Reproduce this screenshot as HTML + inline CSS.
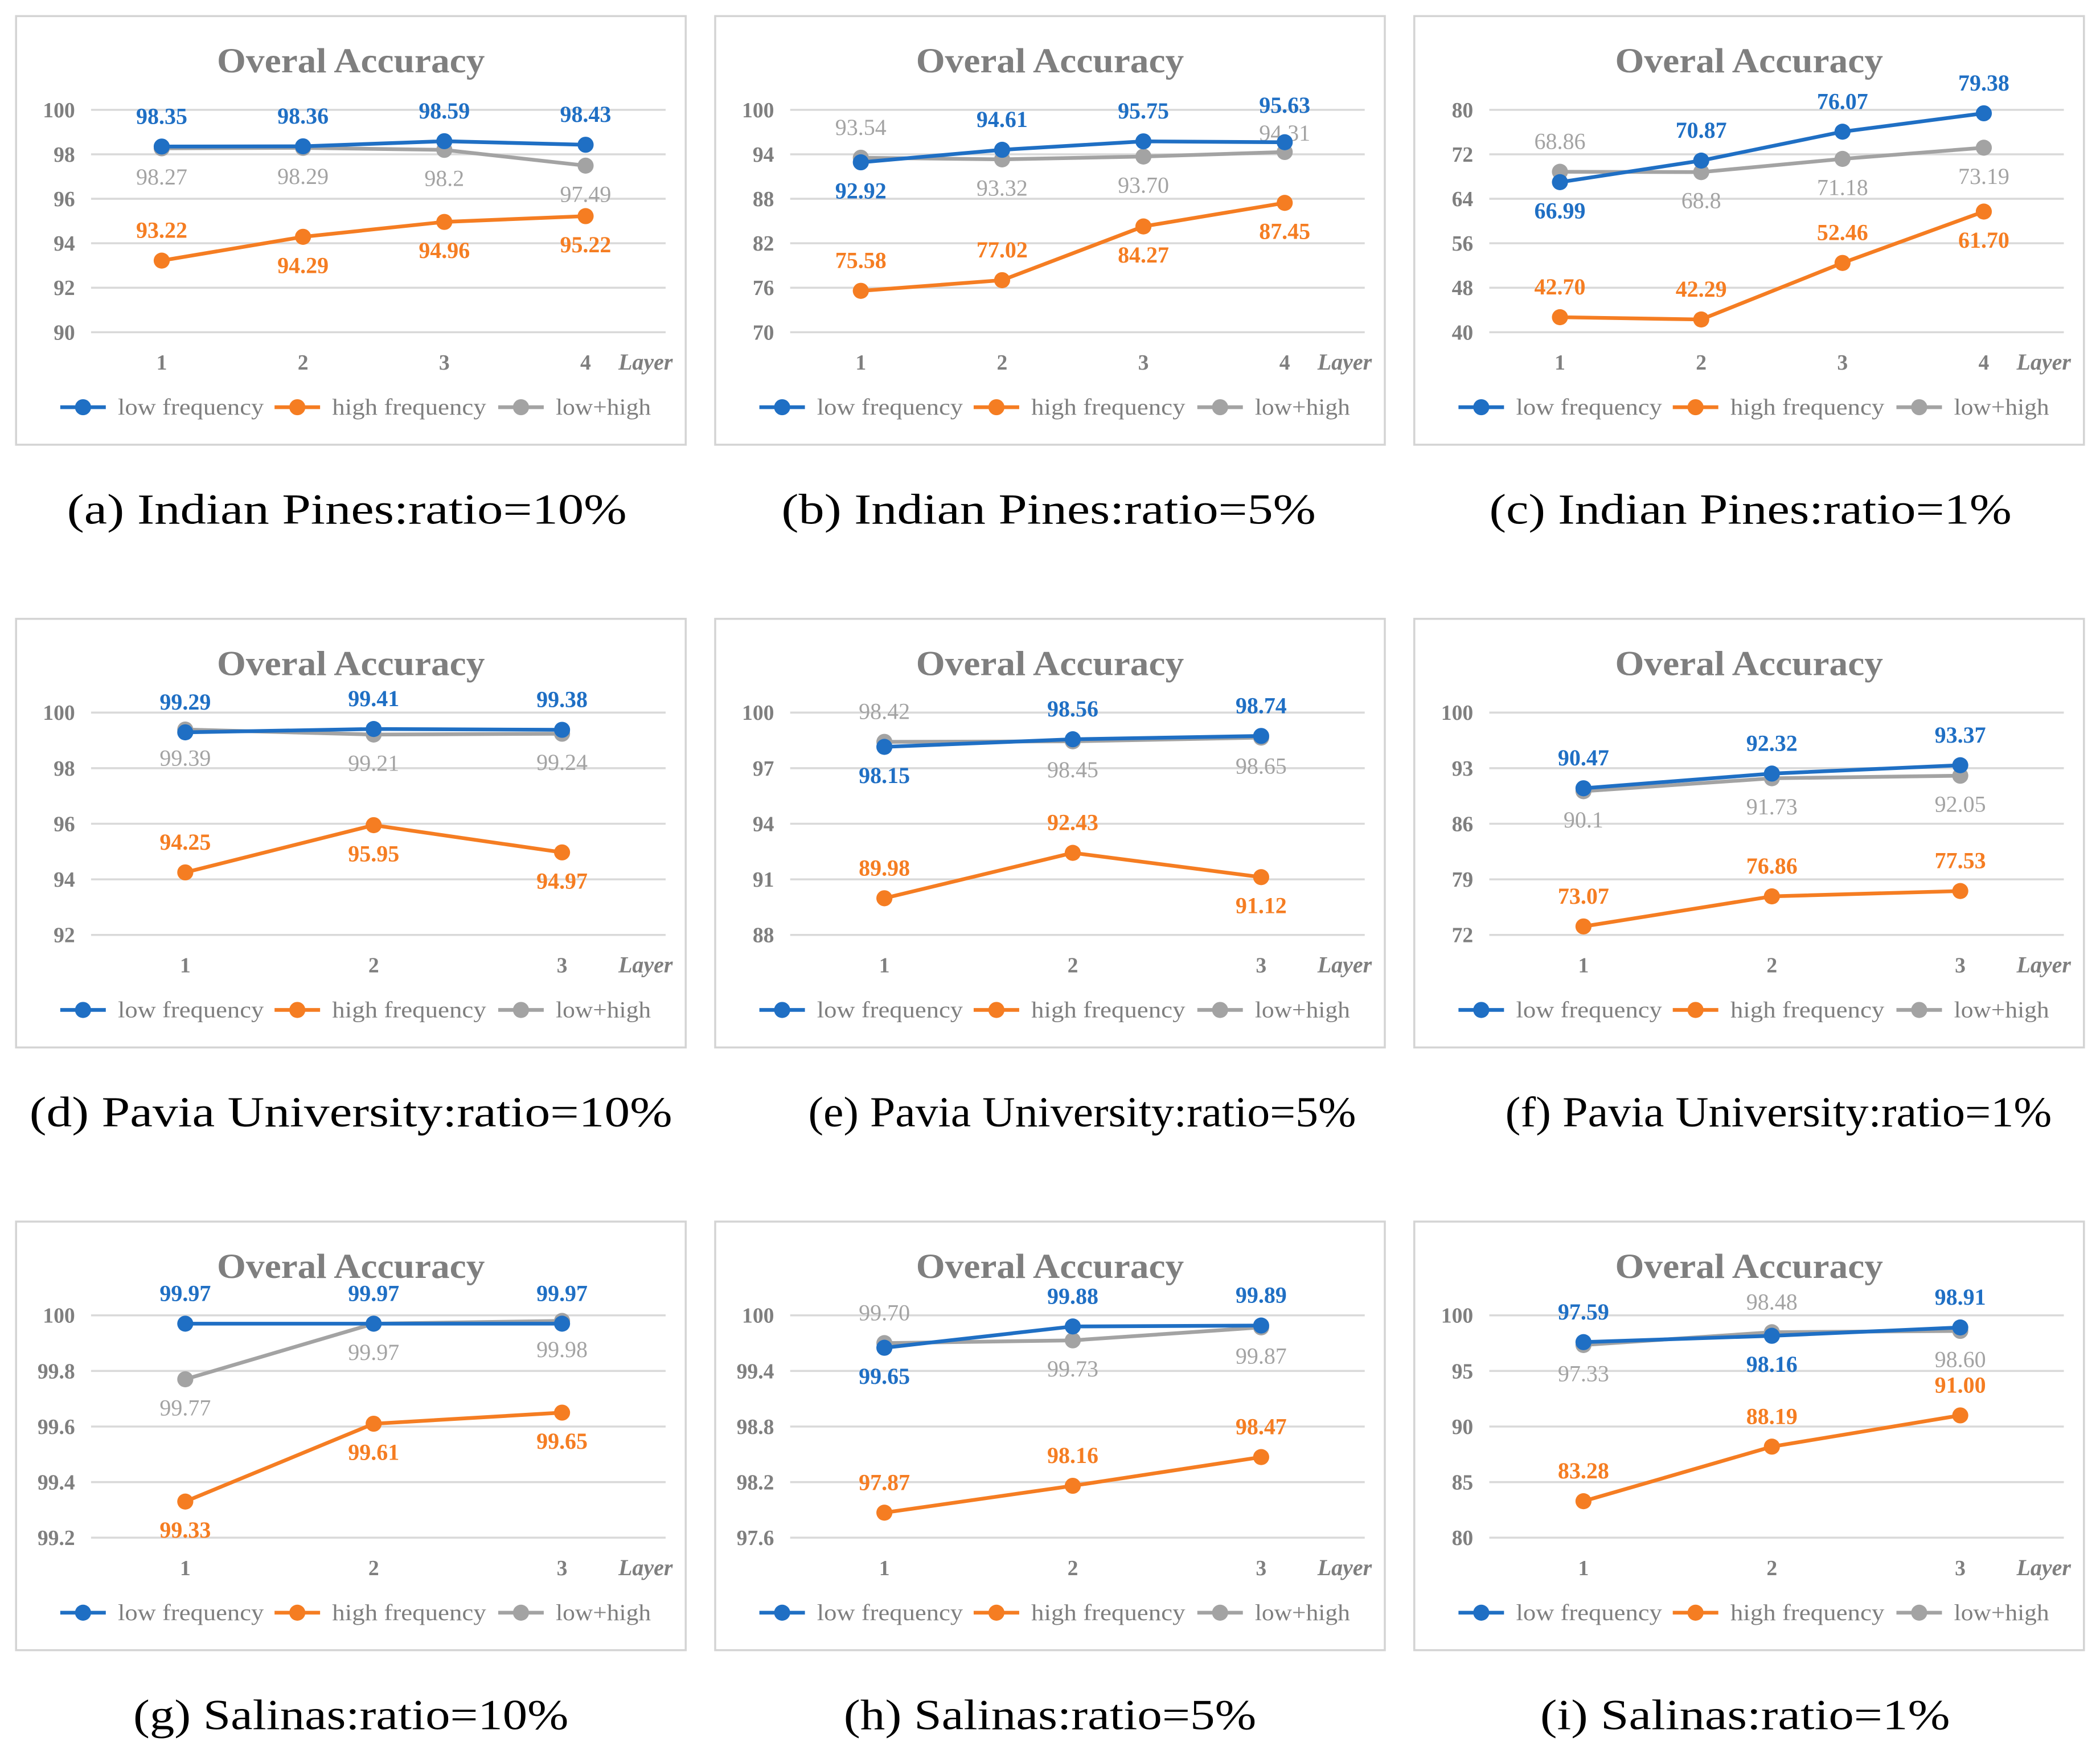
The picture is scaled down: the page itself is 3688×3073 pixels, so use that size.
<!DOCTYPE html>
<html><head><meta charset="utf-8"><style>
html,body{margin:0;padding:0;background:#fff;}
svg{display:block;}
text{font-family:"Liberation Serif",serif;}
</style></head><body>
<svg id="root" width="3688" height="3073" viewBox="0 0 1568 1306.5" xmlns="http://www.w3.org/2000/svg">
<rect x="0" y="0" width="1568" height="1306.5" fill="#fff"/>
</svg>
<script>
// ---- data ----
const panelCaptions = ["(a) Indian Pines:ratio=10%","(b) Indian Pines:ratio=5%","(c) Indian Pines:ratio=1%","(d) Pavia University:ratio=10%","(e) Pavia University:ratio=5%","(f) Pavia University:ratio=1%","(g) Salinas:ratio=10%","(h) Salinas:ratio=5%","(i) Salinas:ratio=1%"];
const captionWidths = [418,399,390,480,409,408,325,308,306];
const captionCenters = [259,261,263,262,286,284,262,262,259];
const layersA = [1,2,3,4];
const layersB = [1,2,3];
const lowA = [98.35,98.36,98.59,98.43];
const highA = [93.22,94.29,94.96,95.22];
const lhA = [98.27,98.29,98.2,97.49];
const lowB = [92.92,94.61,95.75,95.63];
const highB = [75.58,77.02,84.27,87.45];
const lhB = [93.54,93.32,93.70,94.31];
const lowC = [66.99,70.87,76.07,79.38];
const highC = [42.70,42.29,52.46,61.70];
const lhC = [68.86,68.8,71.18,73.19];
const lowD = [99.29,99.41,99.38];
const highD = [94.25,95.95,94.97];
const lhD = [99.39,99.21,99.24];
const lowE = [98.15,98.56,98.74];
const highE = [89.98,92.43,91.12];
const lhE = [98.42,98.45,98.65];
const lowF = [90.47,92.32,93.37];
const highF = [73.07,76.86,77.53];
const lhF = [90.1,91.73,92.05];
const lowG = [99.97,99.97,99.97];
const highG = [99.33,99.61,99.65];
const lhG = [99.77,99.97,99.98];
const lowH = [99.65,99.88,99.89];
const highH = [97.87,98.16,98.47];
const lhH = [99.70,99.73,99.87];
const lowI = [97.59,98.16,98.91];
const highI = [83.28,88.19,91.00];
const lhI = [97.33,98.48,98.60];
const ticksA = ["90","92","94","96","98","100"];
const ticksB = ["70","76","82","88","94","100"];
const ticksC = ["40","48","56","64","72","80"];
const ticksD = ["92","94","96","98","100"];
const ticksE = ["88","91","94","97","100"];
const ticksF = ["72","79","86","93","100"];
const ticksG = ["99.2","99.4","99.6","99.8","100"];
const ticksH = ["97.6","98.2","98.8","99.4","100"];
const ticksI = ["80","85","90","95","100"];
// decimals printed for the low+high labels
const lhDecA = [2,2,1,2];
const lhDecC = [2,1,2,2];
const lhDecF = [1,2,2];
// label placement: 1 = above, -1 = below, 0.5 = slightly above
const panels = [
 {cats:layersA,low:lowA,high:highA,lh:lhA,ticks:ticksA,pl:[1,1,1,1],ph:[1,-1,-1,-1],pg:[-1,-1,-1,-1],gd:lhDecA},
 {cats:layersA,low:lowB,high:highB,lh:lhB,ticks:ticksB,pl:[-1,1,1,1.3],ph:[1,1,-1,-1],pg:[1,-1,-1,0.5]},
 {cats:layersA,low:lowC,high:highC,lh:lhC,ticks:ticksC,pl:[-1,1,1,1],ph:[1,1,1,-1],pg:[1,-1,-1,-1],gd:lhDecC},
 {cats:layersB,low:lowD,high:highD,lh:lhD,ticks:ticksD,pl:[1,1,1],ph:[1,-1,-1],pg:[-1,-1,-1]},
 {cats:layersB,low:lowE,high:highE,lh:lhE,ticks:ticksE,pl:[-1,1,1],ph:[1,1,-1],pg:[1,-1,-1]},
 {cats:layersB,low:lowF,high:highF,lh:lhF,ticks:ticksF,pl:[1,1,1],ph:[1,1,1],pg:[-1,-1,-1],gd:lhDecF},
 {cats:layersB,low:lowG,high:highG,lh:lhG,ticks:ticksG,pl:[1,1,1],ph:[-1,-1,-1],pg:[-1,-1,-1]},
 {cats:layersB,low:lowH,high:highH,lh:lhH,ticks:ticksH,pl:[-1,1,1],ph:[1,1,1],pg:[1,-1,-1]},
 {cats:layersB,low:lowI,high:highI,lh:lhI,ticks:ticksI,pl:[1,-1,1],ph:[1,1,1],pg:[-1,1,-1]}
];
const seriesNames = ["low frequency","high frequency","low+high"];
const colors = ["#1f6fc4","#f57d22","#a3a3a3"];
// ---- drawing ----
const NS="http://www.w3.org/2000/svg";
const root=document.getElementById('root');
function mk(tag,attrs,parent){const e=document.createElementNS(NS,tag);for(const k in attrs)e.setAttribute(k,attrs[k]);(parent||root).appendChild(e);return e;}
panels.forEach((p,i)=>{
  const ox=(i%3)*522, oy=Math.floor(i/3)*450;
  const g=mk('g',{transform:`translate(${ox},${oy})`});
  
  
  const fr=mk('rect',{x:12,y:12,width:500,height:320,fill:'#fff',stroke:'#d4d4d4','stroke-width':1.5},g);
  
  
  const t=mk('text',{x:262,y:54,'text-anchor':'middle','font-size':26,'font-weight':'bold',fill:'#7f7f7f',textLength:200,lengthAdjust:'spacingAndGlyphs'},g);
  t.textContent='Overal Accuracy';
  
  
  const tmin=parseFloat(p.ticks[0]), tmax=parseFloat(p.ticks[p.ticks.length-1]);
  const yTop=82,yBot=248,xL=68,xR=490;
  const y=v=>yBot-(v-tmin)/(tmax-tmin)*(yBot-yTop);
  const n=p.cats.length, bw=(xR-xL)/n;
  const x=k=>xL+bw*(k+0.5);
  p.ticks.forEach(tk=>{
    const v=parseFloat(tk);
    const gl=mk('line',{x1:xL,x2:xR+7,y1:y(v),y2:y(v),stroke:'#d9d9d9','stroke-width':1.5},g);
    
    
    const tl=mk('text',{x:56,y:y(v)+5.5,'text-anchor':'end','font-size':16,'font-weight':'bold',fill:'#7f7f7f'},g);
    tl.textContent=tk;
    
    
  });
  p.cats.forEach((c,k)=>{
    const xl=mk('text',{x:x(k),y:276,'text-anchor':'middle','font-size':16,'font-weight':'bold',fill:'#7f7f7f'},g);
    xl.textContent=String(c);
    
    
  });
  const lay=mk('text',{x:482,y:276,'text-anchor':'middle','font-size':17,'font-style':'italic','font-weight':'bold',fill:'#7f7f7f'},g);
  lay.textContent='Layer';
  
  
  const series=[[p.lh,p.pg,2],[p.high,p.ph,1],[p.low,p.pl,0]];
  series.forEach(([vals,pos,si])=>{
    const pts=vals.map((v,k)=>x(k)+','+y(v)).join(' ');
    const pl=mk('polyline',{points:pts,fill:'none',stroke:colors[si],'stroke-width':2.8},g);
    
    
    vals.forEach((v,k)=>{
      const c=mk('circle',{cx:x(k),cy:y(v),r:6,fill:colors[si]},g);
      
      
      const off=pos[k]>0?-17*pos[k]:27;
      const lt=mk('text',{x:x(k),y:y(v)+off,'text-anchor':'middle','font-size':17,'font-weight':si==2?'normal':'bold',fill:colors[si]},g);
      const dec=(si==2&&p.gd)?p.gd[k]:2;
      lt.textContent=v.toFixed(dec);
      
      
    });
  });
  const lx=[45,205,372];
  const lw=[109,115,71];
  seriesNames.forEach((s,si)=>{
    const lg=mk('g',{},g);
    
    
    mk('line',{x1:lx[si],x2:lx[si]+34,y1:304,y2:304,stroke:colors[si],'stroke-width':2.8},lg);
    mk('circle',{cx:lx[si]+17,cy:304,r:6,fill:colors[si]},lg);
    const tt=mk('text',{x:lx[si]+43,y:309.5,'font-size':17,fill:'#7f7f7f',textLength:lw[si],lengthAdjust:'spacingAndGlyphs'},lg);
    tt.textContent=s;
  });
  const cap=mk('text',{x:captionCenters[i],y:391,'text-anchor':'middle','font-size':32,fill:'#000',textLength:captionWidths[i],lengthAdjust:'spacingAndGlyphs'},g);
  cap.textContent=panelCaptions[i];
  
  
});
</script>
</body></html>
